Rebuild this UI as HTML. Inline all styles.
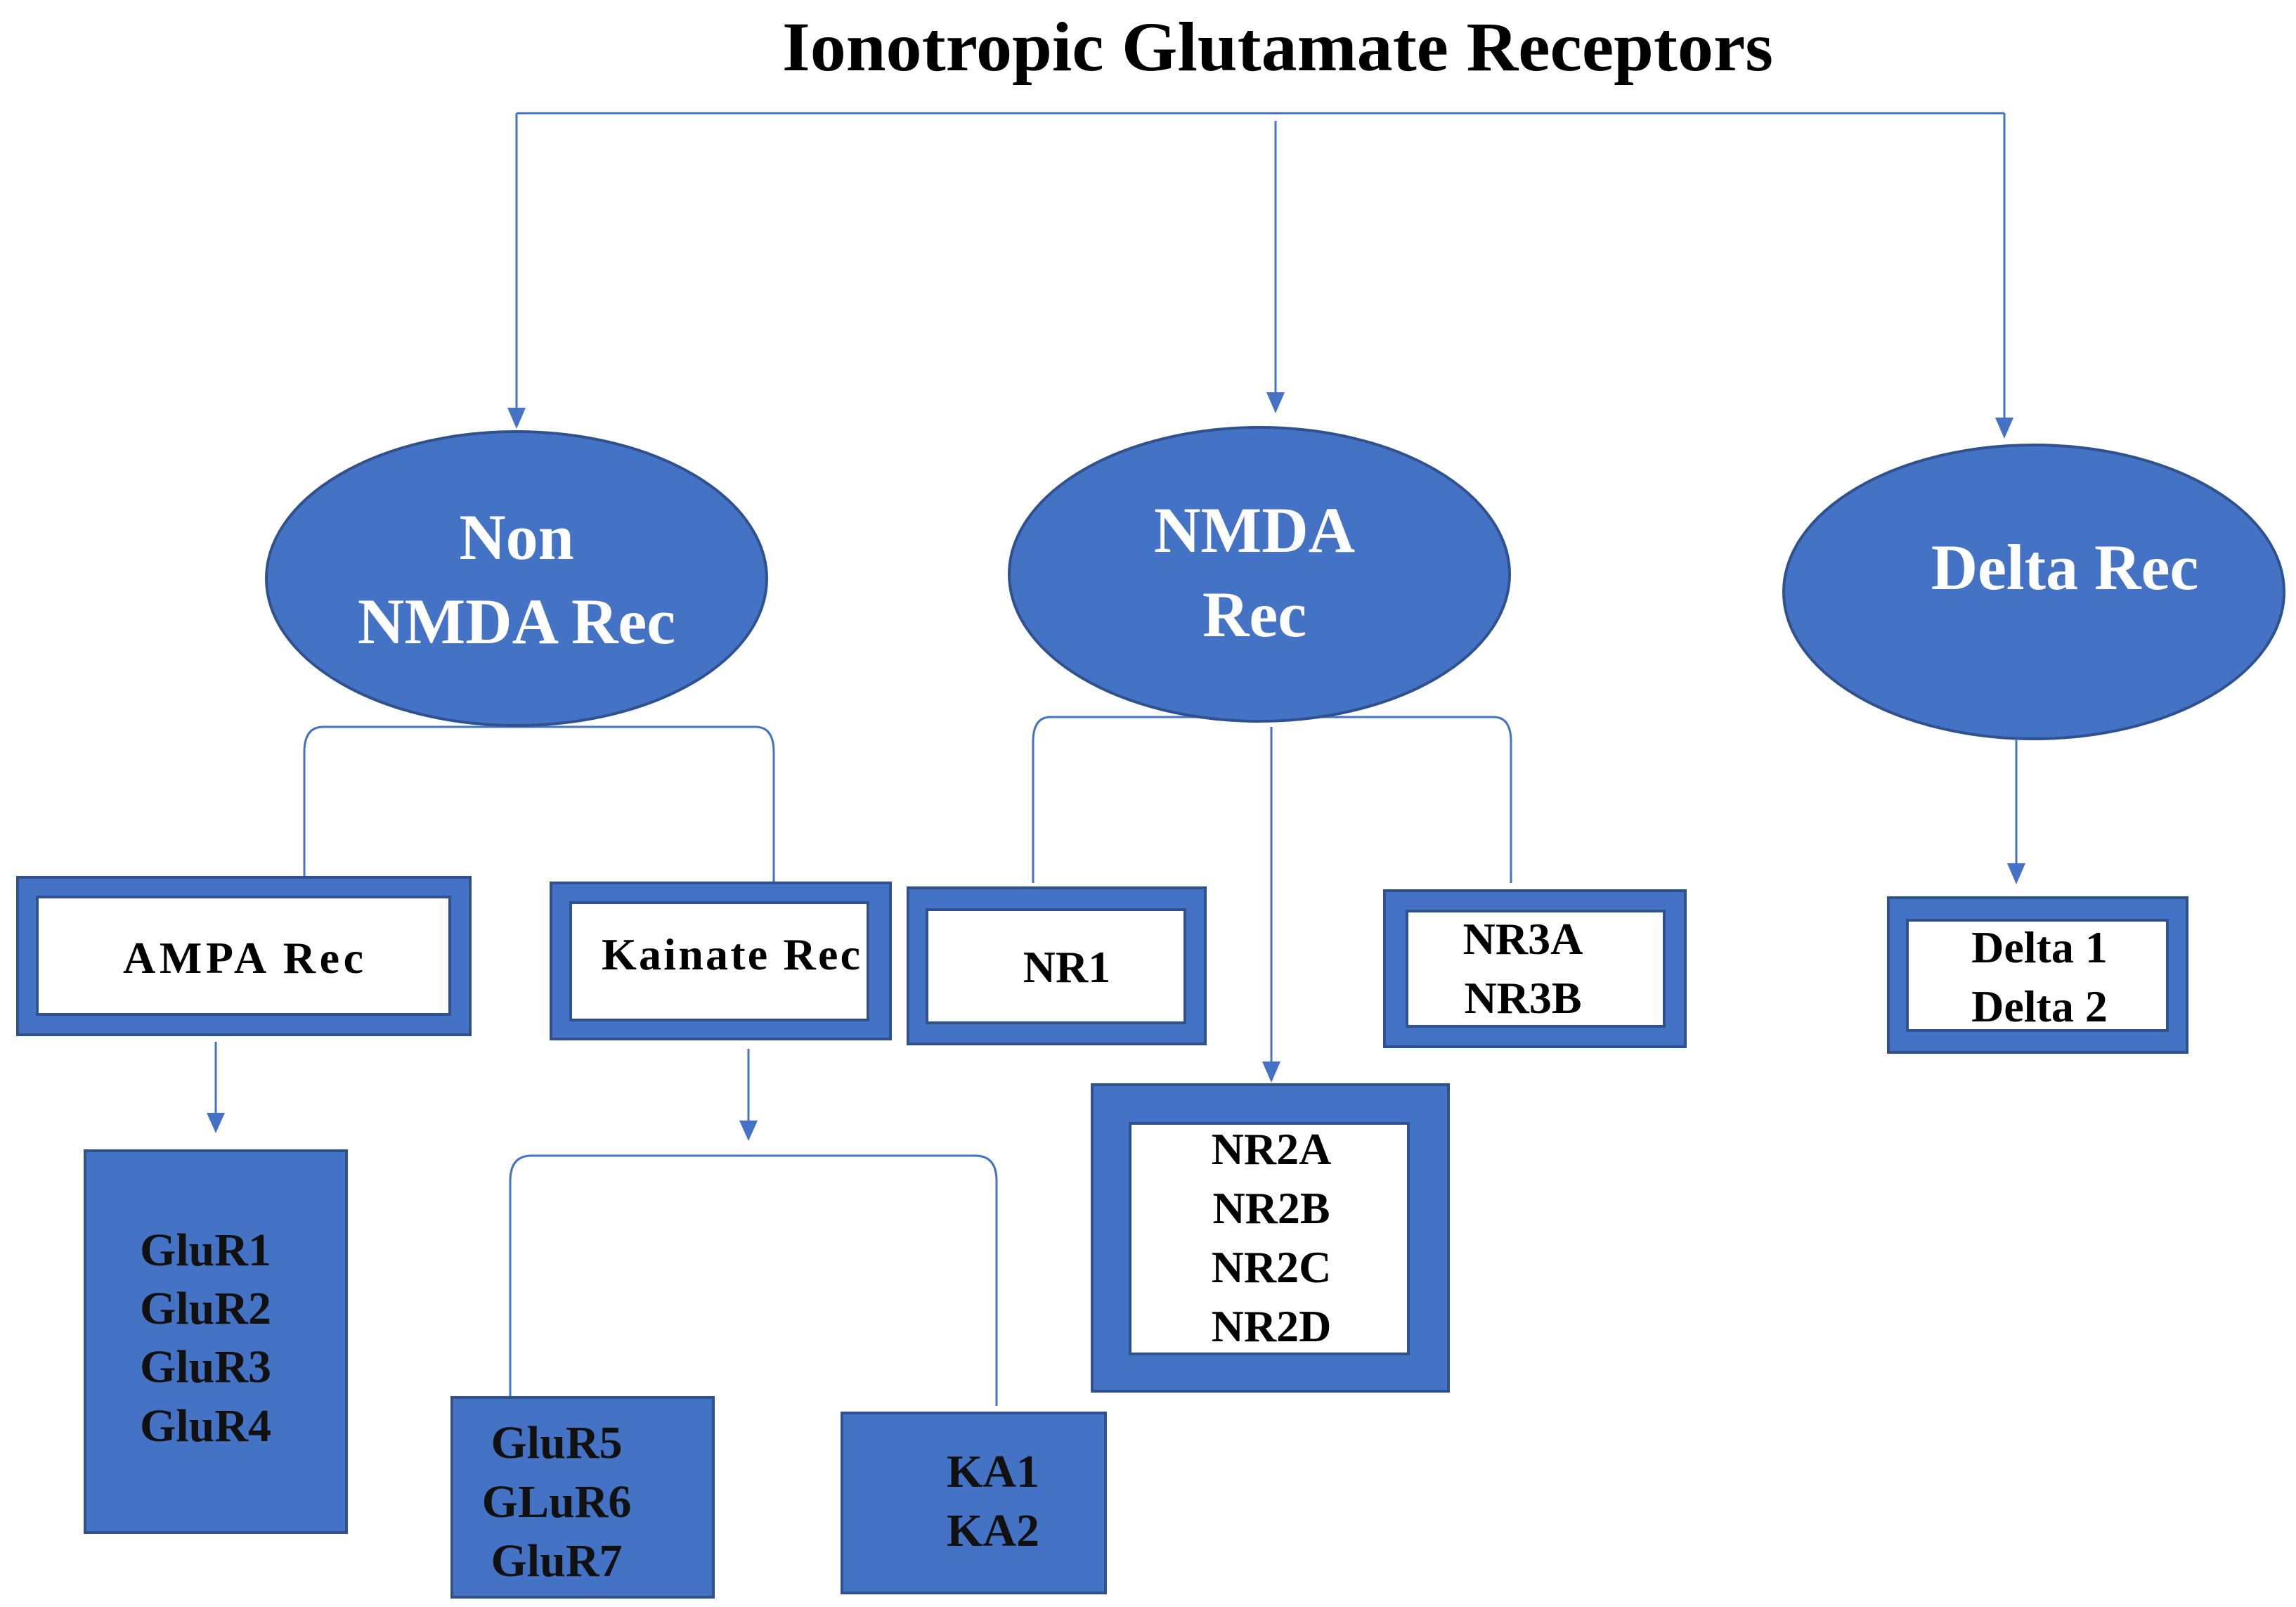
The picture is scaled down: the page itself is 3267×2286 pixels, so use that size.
<!DOCTYPE html>
<html><head><meta charset="utf-8"><style>
html,body{margin:0;padding:0;background:#fff;}
svg{display:block;}
text{font-family:"Liberation Serif",serif;font-weight:bold;}
</style></head><body>
<svg width="3267" height="2286" viewBox="0 0 3267 2286" xmlns="http://www.w3.org/2000/svg">
<defs>
<marker id="ah" markerWidth="10" markerHeight="10" refX="5" refY="9" orient="auto" markerUnits="userSpaceOnUse" viewBox="0 0 10 10">
</marker>
</defs>
<rect width="3267" height="2286" fill="#fff"/>
<text x="1818" y="100" font-size="100" text-anchor="middle" textLength="1410" lengthAdjust="spacingAndGlyphs" fill="#000">Ionotropic Glutamate Receptors</text>

<g stroke="#4472C4" stroke-width="3" fill="none">
<path d="M735 161 H2852"/>
<path d="M735 161 V582"/>
<path d="M1815 172 V560"/>
<path d="M2852 161 V596"/>
<!-- non nmda bracket -->
<path d="M433 1250 V1070 Q433 1034 460 1034 H1075 Q1101 1034 1101 1070 V1256"/>
<!-- nmda bracket -->
<path d="M1470 1256 V1055 Q1470 1020 1495 1020 H2125 Q2150 1020 2150 1055 V1256"/>
<path d="M1809 1034 V1512"/>
<path d="M2869 1053 V1230"/>
<path d="M307 1482 V1585"/>
<path d="M1065 1492 V1596"/>
<path d="M726 1986 V1680 Q726 1644 756 1644 H1388 Q1418 1644 1418 1680 V2000"/>
</g>
<g fill="#4472C4">
<polygon points="722,580 748,580 735,610"/>
<polygon points="1802,558 1828,558 1815,588"/>
<polygon points="2839,594 2865,594 2852,624"/>
<polygon points="1796,1510 1822,1510 1809,1540"/>
<polygon points="2856,1228 2882,1228 2869,1258"/>
<polygon points="294,1583 320,1583 307,1612"/>
<polygon points="1052,1594 1078,1594 1065,1623"/>
</g>

<g fill="#4472C4" stroke="#2F528F" stroke-width="4">
<ellipse cx="735" cy="823" rx="356" ry="209"/>
<ellipse cx="1792" cy="817" rx="356" ry="209"/>
<ellipse cx="2894" cy="842" rx="356" ry="209"/>
</g>
<g fill="#fff" font-size="92" text-anchor="middle">
<text x="735" y="795">Non</text>
<text x="735" y="915">NMDA Rec</text>
<text x="1785" y="785">NMDA</text>
<text x="1785" y="905">Rec</text>
<text x="2938" y="838">Delta Rec</text>
</g>

<!-- framed boxes -->
<g fill="#4472C4" stroke="#2F528F" stroke-width="4">
<rect x="25" y="1248" width="644" height="224"/>
<rect x="784" y="1256" width="483" height="222"/>
<rect x="1292" y="1263" width="423" height="222"/>
<rect x="1970" y="1267" width="428" height="222"/>
<rect x="1554" y="1543" width="507" height="436"/>
<rect x="2687" y="1277" width="425" height="220"/>
<rect x="121" y="1637" width="372" height="543"/>
<rect x="643" y="1988" width="372" height="284"/>
<rect x="1198" y="2010" width="375" height="256"/>
</g>
<g fill="#fff" stroke="#2F528F" stroke-width="4">
<rect x="53" y="1276" width="587" height="167"/>
<rect x="812" y="1284" width="423" height="167"/>
<rect x="1319" y="1294" width="367" height="161"/>
<rect x="2002" y="1296" width="366" height="164"/>
<rect x="1608" y="1598" width="396" height="328"/>
<rect x="2714" y="1309" width="370" height="157"/>
</g>
<g fill="#000" font-size="64" text-anchor="middle">
<text x="346" y="1384" textLength="342" lengthAdjust="spacing">AMPA  Rec</text>
<text x="1040" y="1379" textLength="368" lengthAdjust="spacing">Kainate Rec</text>
<text x="1518" y="1397">NR1</text>
<text x="2167" y="1357">NR3A</text>
<text x="2167" y="1441">NR3B</text>
<text x="1809" y="1656">NR2A</text>
<text x="1809" y="1740">NR2B</text>
<text x="1809" y="1824">NR2C</text>
<text x="1809" y="1908">NR2D</text>
<text x="2902" y="1369">Delta 1</text>
<text x="2902" y="1453">Delta 2</text>
</g>
<g fill="#111" font-size="66">
<text x="199" y="1800">GluR1</text>
<text x="199" y="1883">GluR2</text>
<text x="199" y="1966">GluR3</text>
<text x="199" y="2050">GluR4</text>
<text x="792" y="2074" text-anchor="middle">GluR5</text>
<text x="792" y="2158" text-anchor="middle">GLuR6</text>
<text x="792" y="2242" text-anchor="middle">GluR7</text>
<text x="1413" y="2115" text-anchor="middle">KA1</text>
<text x="1413" y="2199" text-anchor="middle">KA2</text>
</g>
</svg>
</body></html>
